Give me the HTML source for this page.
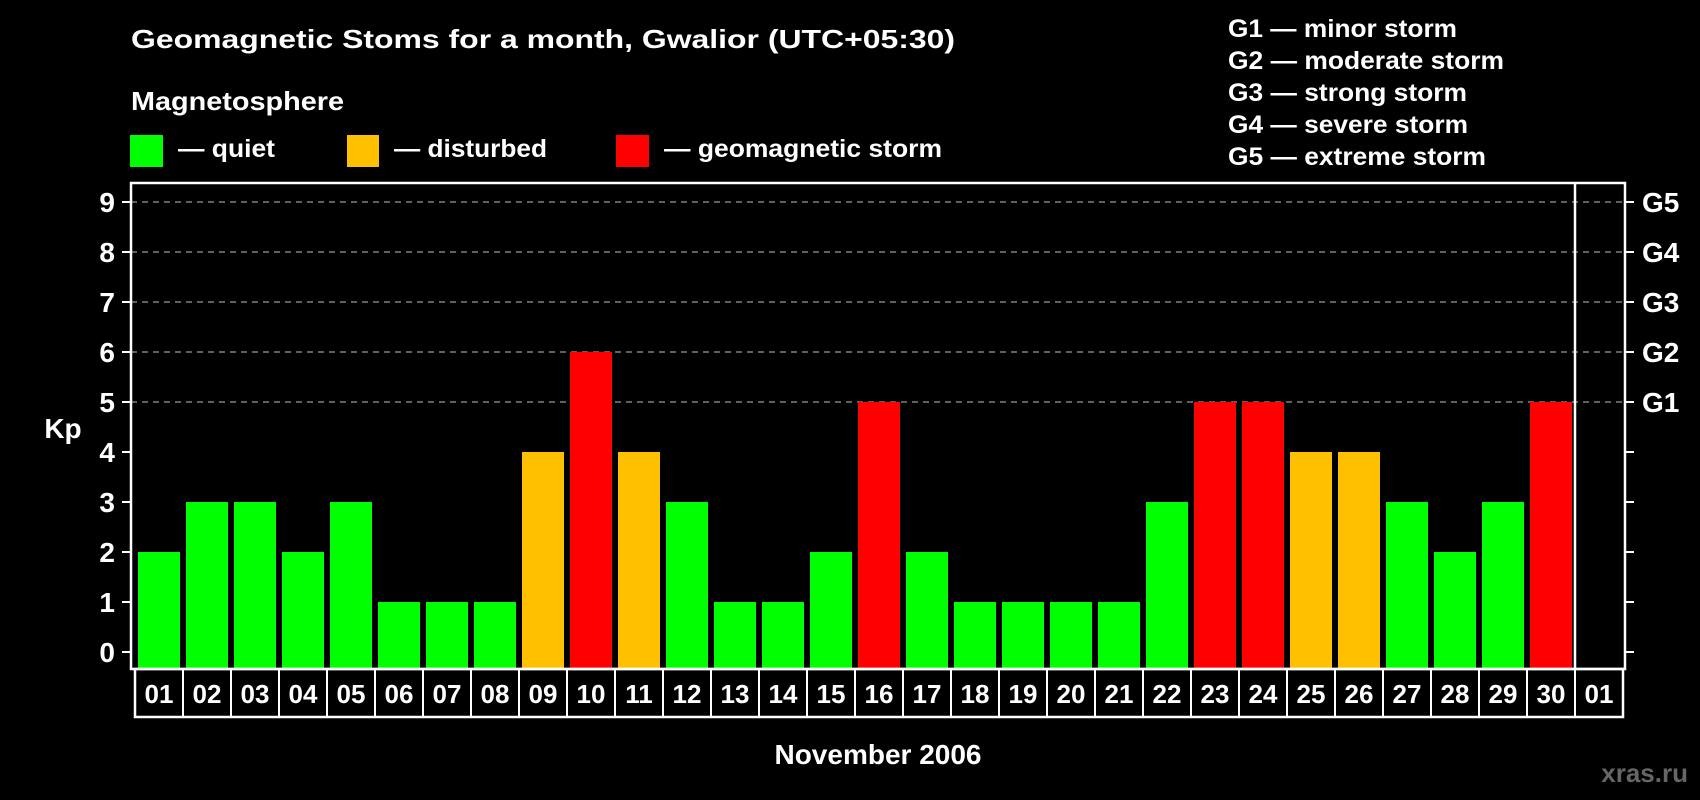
<!DOCTYPE html>
<html><head><meta charset="utf-8"><style>
html,body{margin:0;padding:0;background:#000;}
svg{display:block;font-family:"Liberation Sans",Arial,sans-serif;font-weight:bold;}
</style></head><body>
<svg id="chart" width="1700" height="800" viewBox="0 0 1700 800">
<rect width="1700" height="800" fill="#000"/>
<text x="131" y="48" font-size="26" fill="#fff" textLength="824" lengthAdjust="spacingAndGlyphs">Geomagnetic Stoms for a month, Gwalior (UTC+05:30)</text>
<text x="131" y="110" font-size="26" fill="#fff" textLength="213" lengthAdjust="spacingAndGlyphs">Magnetosphere</text>
<g><rect x="130" y="135" width="33" height="32" fill="#00ff00"/><text x="178" y="157" font-size="25" fill="#fff" textLength="97" lengthAdjust="spacingAndGlyphs">— quiet</text></g>
<g><rect x="347" y="135" width="32" height="32" fill="#ffc000"/><text x="394" y="157" font-size="25" fill="#fff" textLength="153" lengthAdjust="spacingAndGlyphs">— disturbed</text></g>
<g><rect x="616" y="135" width="33" height="32" fill="#ff0000"/><text x="664" y="157" font-size="25" fill="#fff" textLength="278" lengthAdjust="spacingAndGlyphs">— geomagnetic storm</text></g>
<g font-size="25" fill="#fff">
<text x="1228" y="37" textLength="229" lengthAdjust="spacingAndGlyphs">G1 — minor storm</text>
<text x="1228" y="69" textLength="276" lengthAdjust="spacingAndGlyphs">G2 — moderate storm</text>
<text x="1228" y="101" textLength="239" lengthAdjust="spacingAndGlyphs">G3 — strong storm</text>
<text x="1228" y="133" textLength="240" lengthAdjust="spacingAndGlyphs">G4 — severe storm</text>
<text x="1228" y="165" textLength="258" lengthAdjust="spacingAndGlyphs">G5 — extreme storm</text>
</g>
<text x="63" y="438" font-size="28" fill="#fff" text-anchor="middle">Kp</text>
<text x="878" y="764" font-size="28" fill="#fff" text-anchor="middle">November 2006</text>
<text x="1688" y="782" font-size="26" fill="#666" text-anchor="end">xras.ru</text>
<g id="grid"></g><g id="bars"></g><g id="axes"></g>
</svg>
<script>
const days=["01","02","03","04","05","06","07","08","09","10","11","12","13","14","15","16","17","18","19","20","21","22","23","24","25","26","27","28","29","30","01"];
const kp=[2,3,3,2,3,1,1,1,4,6,4,3,1,1,2,5,2,1,1,1,1,3,5,5,4,4,3,2,3,5];
const yTicks=[0,1,2,3,4,5,6,7,8,9];
const gLabels=["G1","G2","G3","G4","G5"];
const gLevels=[5,6,7,8,9];
const NS="http://www.w3.org/2000/svg";
const L=131,R=1625,T=183,B=669,X0=135,STEP=48;
function y(v){return 652-v*50;}
function x(i){return X0+i*STEP;}
function mk(tag,attrs,parent,txt){const e=document.createElementNS(NS,tag);for(const k in attrs)e.setAttribute(k,attrs[k]);if(txt!==undefined)e.textContent=txt;parent.appendChild(e);return e;}
const grid=document.getElementById('grid'),bars=document.getElementById('bars'),axes=document.getElementById('axes');
gLevels.forEach((v,i)=>{
  const l=mk('line',{x1:L,x2:R,y1:y(v),y2:y(v),stroke:'#999','stroke-width':1.2,'stroke-dasharray':'6,5'},grid);
  
  
  const t=mk('text',{x:1642,y:y(v)+10,'font-size':28,fill:'#fff'},axes,gLabels[i]);
  
  
});
kp.forEach((v,i)=>{
  const c=v>=5?'#ff0000':(v>=4?'#ffc000':'#00ff00');
  const r=mk('rect',{x:x(i)+3,y:y(v),width:42,height:B-y(v)-1,fill:c},bars);
  
  
});
yTicks.forEach(v=>{
  mk('line',{x1:122,x2:L,y1:y(v),y2:y(v),stroke:'#fff','stroke-width':2},axes);
  mk('line',{x1:R,x2:1634,y1:y(v),y2:y(v),stroke:'#fff','stroke-width':2},axes);
  const t=mk('text',{x:115,y:y(v)+10,'font-size':28,fill:'#fff','text-anchor':'end'},axes,String(v));
  
  
});
const fr=mk('rect',{x:L,y:T,width:R-L,height:B-T,fill:'none',stroke:'#fff','stroke-width':2.5},axes);


mk('line',{x1:1575,x2:1575,y1:T,y2:B,stroke:'#fff','stroke-width':2.5},axes);
const row=mk('rect',{x:X0,y:B,width:STEP*days.length,height:48,fill:'none',stroke:'#fff','stroke-width':2.5},axes);


days.forEach((d,i)=>{
  if(i>0)mk('line',{x1:x(i),x2:x(i),y1:B,y2:B+48,stroke:'#fff','stroke-width':2},axes);
  const t=mk('text',{x:x(i)+24,y:B+34,'font-size':26,fill:'#fff','text-anchor':'middle'},axes,d);
  
  
});
</script>
</body></html>
